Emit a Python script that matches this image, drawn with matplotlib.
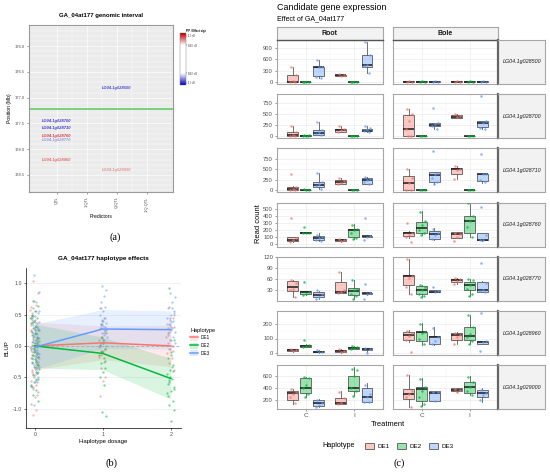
import numpy as np
import matplotlib.pyplot as plt
from matplotlib.colors import LinearSegmentedColormap, Normalize, to_rgba
from matplotlib.colorbar import ColorbarBase
from matplotlib.patches import Patch
from matplotlib.lines import Line2D

plt.rcParams['font.family'] = ['Liberation Sans', 'DejaVu Sans']

W, H = 550, 472
HAPS = ['DE1', 'DE2', 'DE3']
HAP_COLS = ['#F8766D', '#00BA38', '#619CFF']

# ---------------- panel (a): genomic interval ----------------
predictors = ['QTL', '1.QTL', 'Q.QTL', '1.Q.QTL']
a_genes = ['LG04.1g028500', 'LG04.1g028700', 'LG04.1g028710', 'LG04.1g028760',
           'LG04.1g028770', 'LG04.1g028960', 'LG04.1g029000']
a_gene_pred = [3, 1, 1, 1, 1, 1, 3]
a_gene_pos = [176.81, 177.45, 177.58, 177.75, 177.83, 178.21, 178.40]
a_gene_score = [-0.96, -0.97, -0.98, 0.97, -0.8, 0.88, 0.8]   # PIP * effect sign
a_marker_pos = 177.21
a_yticks = [176.0, 176.5, 177.0, 177.5, 178.0, 178.5]

# ---------------- panel (b): haplotype effects ----------------
dosage = [0, 1, 2]
fit_de1 = [0.0, 0.05, 0.0]
fit_de2 = [0.0, -0.12, -0.52]
fit_de3 = [-0.02, 0.27, 0.26]
lo_de1 = [-0.38, -0.22, -0.33]
hi_de1 = [0.38, 0.32, 0.33]
lo_de2 = [-0.35, -0.38, -0.85]
hi_de2 = [0.35, 0.14, -0.2]
lo_de3 = [-0.38, -0.04, -0.05]
hi_de3 = [0.35, 0.58, 0.56]

b0_de1 = [1.03, 0.84, 0.71, 0.62, 0.55, 0.48, 0.44, 0.39, 0.36, 0.31, 0.27, 0.24, 0.2, 0.17, 0.13,
          0.1, 0.07, 0.03, 0.0, -0.02, -0.06, -0.09, -0.13, -0.16, -0.2, -0.24, -0.27, -0.31, -0.35,
          -0.39, -0.44, -0.5, -0.56, -0.62, -0.68, -0.74, -0.82, -0.92, -1.02, -1.1, 0.58, -0.46,
          0.22, -0.12, 0.05, 0.34, -0.33, 0.15, -0.18, 0.41, -0.41, 0.09, -0.07, 0.26, -0.23,
          0.52, -0.58, 0.02, -0.04, 0.65, -0.66]
b0_de2 = [0.72, 0.63, 0.55, 0.5, 0.45, 0.4, 0.36, 0.32, 0.28, 0.25, 0.21, 0.18, 0.15, 0.11, 0.08,
          0.05, 0.02, -0.01, -0.04, -0.07, -0.1, -0.14, -0.17, -0.21, -0.25, -0.29, -0.33, -0.37,
          -0.42, -0.47, -0.52, -0.58, -0.64, -0.7, -0.78, -0.88, 0.3, -0.2, 0.12, -0.05, 0.44, -0.55,
          0.38, -0.31, 0.19, -0.15, 0.07, -0.09, 0.26, -0.26, 0.48, -0.44, 0.0, -0.62]
b0_de3 = [1.13, 0.86, 0.7, 0.6, 0.53, 0.47, 0.42, 0.37, 0.33, 0.29, 0.26, 0.22, 0.19, 0.16, 0.12,
          0.09, 0.06, 0.03, 0.0, -0.03, -0.06, -0.1, -0.13, -0.17, -0.21, -0.25, -0.3, -0.34, -0.39,
          -0.45, -0.5, -0.57, -0.66, -0.78, -0.95, 0.38, -0.15, 0.08, -0.42, 0.25, 0.45, -0.36,
          0.14, -0.19, 0.31, -0.27, 0.04, -0.08, 0.56, -0.52, 0.2, -0.12]
b1_de1 = [0.6, 0.45, 0.35, 0.28, 0.2, 0.15, 0.1, 0.05, 0.0, -0.05, -0.1, -0.18, -0.25, -0.35,
          -0.5, -0.56, -0.8, 0.25, 0.12, -0.02, 0.4, -0.14]
b1_de2 = [0.35, 0.2, 0.1, 0.02, -0.05, -0.1, -0.15, -0.2, -0.28, -0.35, -0.42, -0.5, -0.62,
          -1.05, -1.12, 0.05, -0.08, -0.24, 0.15]
b1_de3 = [0.96, 0.9, 0.8, 0.7, 0.62, 0.55, 0.5, 0.45, 0.4, 0.36, 0.32, 0.28, 0.24, 0.2, 0.15,
          0.1, 0.05, 0.0, -0.08, 0.6, 0.3, 0.42, 0.26, 0.18, 0.34]
b2_de1 = [0.6, 0.5, 0.42, 0.35, 0.28, 0.22, 0.15, 0.1, 0.05, 0.0, -0.05, -0.12, -0.2, -0.28,
          -0.38, 0.3, 0.18, -0.08, 0.45]
b2_de2 = [0.92, 0.1, -0.1, -0.2, -0.3, -0.38, -0.45, -0.52, -0.58, -0.65, -0.72, -0.8, -0.88,
          -0.95, -1.02, -1.2, -0.6, -0.4, -0.5, -0.75, -0.33, -0.55, -0.68, -0.15]
b2_de3 = [0.85, 0.78, 0.7, 0.62, 0.56, 0.5, 0.45, 0.4, 0.35, 0.3, 0.25, 0.2, 0.15, 0.1, 0.05,
          0.0, -0.05, 0.52, 0.38, 0.28, 0.44, 0.33, 0.22, 0.6]

# ---------------- panel (c): candidate gene expression ----------------
tissues = ['Root', 'Bole']
treatments = ['C', 'I']
c_genes = ['LG04.1g028500', 'LG04.1g028700', 'LG04.1g028710', 'LG04.1g028760',
           'LG04.1g028770', 'LG04.1g028960', 'LG04.1g029000']
# box stats [whisker low, q1, median, q3, whisker high]; order Root-C, Root-I, Bole-C, Bole-I x DE1..DE3
box_028500 = [[0, 0, 5, 190, 405], [0, 0, 0, 2, 3], [100, 150, 385, 405, 590],
              [150, 160, 175, 185, 205], [0, 0, 0, 2, 3], [225, 390, 440, 730, 1070],
              [0, 0, 2, 6, 10], [0, 0, 2, 6, 10], [0, 0, 3, 8, 12],
              [0, 0, 2, 6, 10], [0, 0, 2, 6, 10], [0, 0, 3, 8, 12]]
pts_028500 = [[405, 190, 20, 5, 0], [0, 0, 1, 2], [590, 400, 385, 140, 100],
              [205, 175, 150], [0, 1, 2, 0], [1070, 720, 450, 420, 230],
              [0, 3, 8], [0, 2, 6], [0, 5, 12], [0, 3, 8], [0, 2, 6], [0, 5, 12]]
box_028700 = [[0, 5, 30, 100, 245], [5, 10, 15, 20, 30], [20, 35, 75, 150, 335],
              [90, 95, 140, 175, 235], [0, 0, 2, 5, 10], [100, 110, 130, 175, 240],
              [0, 0, 175, 475, 630], [0, 2, 5, 10, 15], [160, 225, 265, 305, 310],
              [410, 415, 450, 480, 500], [0, 2, 5, 10, 15], [160, 215, 310, 350, 355]]
pts_028700 = [[240, 100, 30, 5, 0], [30, 20, 15, 10, 5], [330, 150, 100, 50, 20],
              [230, 170, 140, 100], [10, 2, 0, 0], [240, 200, 150, 120, 100],
              [620, 510, 350, 170, 0, 0], [15, 5, 0], [650, 300, 270, 230, 170],
              [500, 460, 430], [15, 5, 0], [905, 350, 300, 200, 160]]
box_028710 = [[0, 0, 40, 80, 100], [0, 5, 10, 15, 20], [35, 90, 135, 195, 420],
              [150, 155, 195, 250, 300], [0, 0, 2, 5, 8], [145, 145, 250, 300, 330],
              [0, 0, 170, 340, 505], [0, 2, 5, 10, 15], [150, 210, 355, 435, 440],
              [265, 380, 500, 540, 590], [0, 2, 5, 10, 15], [180, 220, 380, 400, 410]]
pts_028710 = [[385, 80, 40, 10, 0], [20, 10, 5], [420, 190, 150, 100, 40],
              [300, 220, 180, 160], [8, 2, 0], [330, 280, 240, 200, 150],
              [500, 300, 170, 0, 0], [15, 5, 0], [950, 420, 380, 300, 200, 160],
              [580, 520, 480, 270], [15, 5, 0], [880, 400, 380, 250, 200]]
box_028760 = [[30, 35, 50, 90, 95], [150, 155, 160, 165, 165], [40, 58, 85, 108, 150],
              [30, 36, 50, 63, 70], [65, 103, 190, 215, 280], [100, 103, 108, 115, 120],
              [85, 108, 148, 165, 185], [130, 153, 225, 315, 460], [55, 68, 145, 180, 225],
              [80, 85, 135, 165, 165], [95, 148, 325, 395, 575], [45, 54, 58, 150, 155]]
pts_028760 = [[365, 80, 50, 30], [235, 160, 160, 150], [130, 100, 80, 60, 45],
              [70, 50, 40], [270, 210, 190, 150, 80, 70], [365, 110, 100, 60],
              [300, 150, 130, 100, 30], [455, 320, 270, 200, 150, 130], [210, 150, 120, 70],
              [160, 140, 100, 40], [575, 400, 320, 240, 100], [525, 130, 60, 50]]
box_028770 = [[13, 29, 40, 55, 58], [18, 20, 25, 28, 29], [8, 12, 17, 25, 28],
              [22, 24, 26, 53, 81], [8, 17, 29, 37, 58], [18, 19.6, 22, 24, 24],
              [20, 45, 68, 73, 115], [12, 20, 31, 41, 46], [25, 26, 27, 30, 31],
              [48, 54, 59, 62, 65], [14, 31, 45, 52, 61], [26, 26.5, 32, 54, 55]]
pts_028770 = [[57, 50, 35, 30, 13], [52, 25, 20, 18], [30, 20, 12, 8],
              [80, 30, 25, 22], [57, 35, 30, 20, 15, 8], [48, 22, 20, 8],
              [115, 70, 65, 40, 20], [44, 40, 30, 20, 15, 12], [40, 28, 26],
              [65, 60, 55, 48], [60, 58, 45, 35, 20, 14], [103, 50, 30, 28, 26]]
box_028960 = [[10, 11.5, 21, 28, 28], [38, 41, 48, 55, 60], [3, 5, 9, 16, 18],
              [3, 5, 11.5, 21, 28], [25, 28, 37, 44, 50], [10, 21, 28, 32, 35],
              [78, 90, 127, 143, 161], [55, 83, 143, 147, 207], [55, 60, 113, 115, 179],
              [60, 92, 122, 136, 147], [60, 90, 120, 182, 264], [64, 64, 78, 85, 85]]
pts_028960 = [[25, 20, 15], [88, 55, 45, 40], [18, 10, 5],
              [28, 15, 10], [50, 42, 35, 30], [35, 25, 0],
              [155, 140, 120, 90, 5], [200, 145, 140, 100, 60], [175, 110, 80, 60],
              [140, 125, 110, 60], [260, 180, 130, 110, 80, 65], [275, 80, 75, 15]]
box_029000 = [[140, 208, 310, 344, 383], [248, 321, 405, 566, 594], [84, 101, 152, 208, 220],
              [135, 135, 152, 242, 344], [264, 349, 394, 600, 752], [158, 169, 248, 394, 478],
              [79, 220, 293, 383, 625], [100, 180, 377, 422, 566], [180, 180, 321, 349, 349],
              [340, 349, 371, 394, 394], [282, 321, 417, 507, 600], [174, 254, 321, 360, 394]]
pts_029000 = [[380, 330, 300, 250, 150], [590, 570, 450, 400, 300, 250], [200, 150, 110, 80],
              [335, 240, 150, 140], [730, 700, 600, 400, 350, 260], [460, 300, 250, 170, 160],
              [615, 350, 300, 250, 80], [550, 420, 350, 250, 130, 100], [340, 330, 180],
              [380, 370, 340], [580, 500, 420, 350, 290], [370, 320, 280, 200]]
c_ylims = [(-62, 1124), (-43, 957), (-50, 1004), (-40, 585), (2, 121), (-14, 290), (45, 786)]
c_yticks = [[0, 300, 600, 900], [0, 250, 500, 750], [0, 250, 500, 750],
            [0, 100, 200, 300, 400, 500], [30, 60, 90, 120], [0, 100, 200], [200, 400, 600]]

c_boxes = [box_028500, box_028700, box_028710, box_028760, box_028770, box_028960, box_029000]
c_points = [pts_028500, pts_028700, pts_028710, pts_028760, pts_028770, pts_028960, pts_029000]


def rect(x0, y0, x1, y1):
    """pixel box (left, top, right, bottom) -> figure fraction"""
    return [x0 / W, 1 - y1 / H, (x1 - x0) / W, (y1 - y0) / H]


def jitter(n, width):
    return ((np.arange(n) * 0.618 + 0.3) % 1 - 0.5) * width


fig = plt.figure(figsize=(W / 100, H / 100), dpi=100)
fig.patch.set_facecolor('white')

# ======== (a) ========
norm = Normalize(-1.1, 1.1)
cmap = LinearSegmentedColormap.from_list(
    'pip', [(0.0, '#0000C0'), (norm(-0.6), '#FFFFFF'), (norm(0.6), '#FFFFFF'), (1.0, '#C00000')])

ax = fig.add_axes(rect(29, 25, 173, 192))
ax.set_facecolor('#EBEBEB')
ax.set_xlim(0.07, 4.87)
ax.set_ylim(178.83, 175.59)
ax.set_yticks(np.arange(175.6, 178.85, 0.1), minor=True)
ax.set_xticks([1.5, 2.5, 3.5], minor=True)
ax.grid(which='minor', color='white', lw=0.3)
ax.grid(which='major', color='white', lw=0.5)
ax.set_axisbelow(True)
ax.set_xticks(range(1, 5))
ax.set_xticklabels(predictors, rotation=90, fontsize=2.9, color='#4D4D4D')
ax.set_yticks(a_yticks)
ax.set_yticklabels(['%.1f' % v for v in a_yticks], fontsize=2.9, color='#4D4D4D')
ax.tick_params(which='major', length=1.5, width=0.4, pad=1.5, color='#555555')
ax.tick_params(which='minor', length=0)
for s in ax.spines.values():
    s.set_color('#9A9A9A')
    s.set_linewidth(0.8)
ax.axhline(a_marker_pos, color='#66CC66', lw=1.2)
for g, xp, yp, sc in zip(a_genes, a_gene_pred, a_gene_pos, a_gene_score):
    ax.text(xp, yp, g, color=cmap(norm(sc)), fontsize=2.9, fontweight='bold',
            fontstyle='italic', ha='center', va='center')
ax.set_ylabel('Position (Mb)', fontsize=3.6, labelpad=2)
ax.set_xlabel('Predictors', fontsize=3.6, labelpad=1.5)
ax.set_title('GA_04at177 genomic interval', fontsize=4.3, fontweight='bold', pad=6)

cax = fig.add_axes(rect(180, 33.3, 186, 85))
cb = ColorbarBase(cax, cmap=cmap, norm=norm, ticks=[-1, -0.6, 0.6, 1])
cb.set_ticklabels(['1 / <0', '0.6 / <0', '0.6 / >0', '1 / >0'])
cax.tick_params(labelsize=1.8, length=0.8, width=0.3, pad=0.8)
cb.outline.set_linewidth(0.3)
cb.outline.set_edgecolor('#777777')
fig.text(186 / W, 1 - 31 / H, 'PIP / Effect sign', fontsize=1.9, fontweight='bold', va='center')
fig.text(115 / W, 1 - 237 / H, '(a)', fontsize=7.5, family=['Liberation Serif', 'DejaVu Serif'],
         ha='center', va='center')

# ======== (b) ========
bx = fig.add_axes(rect(26, 268, 181, 428))
bx.set_xlim(-0.13, 2.15)
bx.set_ylim(-1.31, 1.244)
b_fits = [fit_de1, fit_de2, fit_de3]
b_los = [lo_de1, lo_de2, lo_de3]
b_his = [hi_de1, hi_de2, hi_de3]
b_pts = [[b0_de1, b1_de1, b2_de1], [b0_de2, b1_de2, b2_de2], [b0_de3, b1_de3, b2_de3]]
bx.set_yticks([-1, -0.5, 0, 0.5, 1])
bx.grid(axis='y', color='#EBEBEB', lw=0.5)
bx.set_axisbelow(True)
bx.axhline(0, color='#AAAAAA', lw=0.6, ls=(0, (3, 3)))
jw = [0.12, 0.1, 0.12]
for k in range(3):
    for d in range(3):
        ys = b_pts[k][d]
        xs = dosage[d] + jitter(len(ys), jw[d]) + (k - 1) * 0.01
        bx.scatter(xs, ys, s=2.6, color=HAP_COLS[k], alpha=0.55, lw=0)
for k in range(3):
    bx.fill_between(dosage, b_los[k], b_his[k], color=HAP_COLS[k], alpha=0.15, lw=0)
for k in range(3):
    bx.plot(dosage, b_fits[k], color=HAP_COLS[k], lw=1.1)
bx.set_xticks(dosage)
bx.set_yticklabels(['-1.0', '-0.5', '0.0', '0.5', '1.0'])
bx.tick_params(labelsize=3.8, length=1.5, width=0.4, pad=1.5, labelcolor='#4D4D4D')
for s in ['top', 'right']:
    bx.spines[s].set_visible(False)
for s in ['left', 'bottom']:
    bx.spines[s].set_linewidth(0.5)
bx.set_ylabel('BLUP', fontsize=4.3, labelpad=2)
bx.set_xlabel('Haplotype dosage', fontsize=4.3, labelpad=1.5)
bx.set_title('GA_04at177 haplotype effects', fontsize=4.6, fontweight='bold', pad=6)
b_handles = [(Patch(facecolor=to_rgba(c, 0.2), lw=0), Line2D([], [], color=c, lw=1.1)) for c in HAP_COLS]
fig.legend(b_handles, HAPS, title='Haplotype', loc='upper left', bbox_to_anchor=(186 / W, 1 - 324 / H),
           frameon=False, fontsize=3.4, title_fontsize=4.0, alignment='left',
           handlelength=1.6, handleheight=1.6, labelspacing=0.35, handletextpad=0.6)
fig.text(112 / W, 1 - 463 / H, '(b)', fontsize=7.5, family=['Liberation Serif', 'DejaVu Serif'],
         ha='center', va='center')

# ======== (c) ========
col_x = [(276.7, 382.7), (392.7, 498.3)]
row_top0, row_step, row_h = 40.0, 54.2, 44.0
pos_base = [1, 2]
dodge = [-0.27, 0.0, 0.27]
for r in range(len(c_genes)):
    y0 = row_top0 + r * row_step
    for c in range(2):
        cx = fig.add_axes(rect(col_x[c][0], y0, col_x[c][1], y0 + row_h))
        stats, positions, colors = [], [], []
        for t in range(2):
            for h in range(3):
                i = c * 6 + t * 3 + h
                lo, q1, med, q3, hi = c_boxes[r][i]
                stats.append(dict(whislo=lo, q1=q1, med=med, q3=q3, whishi=hi))
                positions.append(pos_base[t] + dodge[h])
                colors.append(HAP_COLS[h])
        bp = cx.bxp(stats, positions=positions, widths=0.22, patch_artist=True,
                    showfliers=False, showcaps=False, manage_ticks=False,
                    boxprops=dict(edgecolor='#595959', lw=0.6),
                    whiskerprops=dict(color='#595959', lw=0.6),
                    medianprops=dict(color='#1A1A1A', lw=1.1))
        for patch, col in zip(bp['boxes'], colors):
            patch.set_facecolor(to_rgba(col, 0.4))
        for i in range(6):
            ys = c_points[r][c * 6 + i]
            xs = positions[i] + jitter(len(ys), 0.16)
            cx.scatter(xs, ys, s=3.2, color=colors[i], alpha=0.75, lw=0, zorder=3)
        cx.set_xlim(0.4, 2.6)
        cx.set_ylim(*c_ylims[r])
        yt = c_yticks[r]
        cx.set_yticks(yt)
        cx.set_yticks([(a + b) / 2 for a, b in zip(yt[:-1], yt[1:])], minor=True)
        cx.set_xticks(pos_base)
        cx.set_xticks([1.5], minor=True)
        cx.grid(which='major', color='#EBEBEB', lw=0.5)
        cx.grid(which='minor', color='#F4F4F4', lw=0.3)
        cx.set_axisbelow(True)
        for s in cx.spines.values():
            s.set_color('#A6A6A6')
            s.set_linewidth(0.8)
        cx.tick_params(which='minor', length=0)
        cx.tick_params(which='major', length=1.5, width=0.4, pad=1.2, labelsize=4.2,
                       labelcolor='#4D4D4D', color='#4D4D4D')
        if c == 1:
            cx.tick_params(axis='y', labelleft=False, length=0)
        if r < len(c_genes) - 1:
            cx.tick_params(axis='x', labelbottom=False, length=0)
        else:
            cx.set_xticklabels(treatments, fontsize=4.6)
        if r == 0:
            sx = fig.add_axes(rect(col_x[c][0], 27.3, col_x[c][1], 40))
            sx.set_facecolor('#F2F2F2')
            sx.set_xticks([])
            sx.set_yticks([])
            for s in sx.spines.values():
                s.set_color('#A6A6A6')
                s.set_linewidth(0.8)
            sx.spines['bottom'].set_color('#555555')
            sx.spines['bottom'].set_linewidth(1.0)
            sx.text(0.5, 0.5, tissues[c], ha='center', va='center', fontsize=5.0,
                    fontweight='bold', color='#1A1A1A', transform=sx.transAxes)
    gx = fig.add_axes(rect(498.3, y0, 545, y0 + row_h))
    gx.set_facecolor('#F2F2F2')
    gx.set_xticks([])
    gx.set_yticks([])
    for s in gx.spines.values():
        s.set_color('#A6A6A6')
        s.set_linewidth(0.8)
    gx.spines['left'].set_color('#666666')
    gx.spines['left'].set_linewidth(1.6)
    gx.text(0.5, 0.5, c_genes[r], ha='center', va='center', fontsize=3.9, fontstyle='italic',
            color='#1A1A1A', transform=gx.transAxes)

fig.text(277 / W, 1 - 7 / H, 'Candidate gene expression', fontsize=6.4, va='center')
fig.text(277 / W, 1 - 19 / H, 'Effect of GA_04at177', fontsize=5.0, va='center')
fig.text(258 / W, 1 - 224 / H, 'Read count', fontsize=5.4, rotation=90, ha='center', va='center')
fig.text(387.7 / W, 1 - 424 / H, 'Treatment', fontsize=5.4, ha='center', va='center')
fig.text(322 / W, 1 - 445.7 / H, 'Haplotype', fontsize=5.2, ha='left', va='center')
c_handles = [Patch(facecolor=to_rgba(col, 0.4), edgecolor='#595959', lw=0.6) for col in HAP_COLS]
fig.legend(c_handles, HAPS, ncol=3, loc='center left', bbox_to_anchor=(359 / W, 1 - 445.7 / H),
           frameon=False, fontsize=4.5, handlelength=1.5, handleheight=1.1,
           columnspacing=1.2, handletextpad=0.5)
fig.text(399 / W, 1 - 463 / H, '(c)', fontsize=7.5, family=['Liberation Serif', 'DejaVu Serif'],
         ha='center', va='center')

fig.savefig('out.png', dpi=100)
